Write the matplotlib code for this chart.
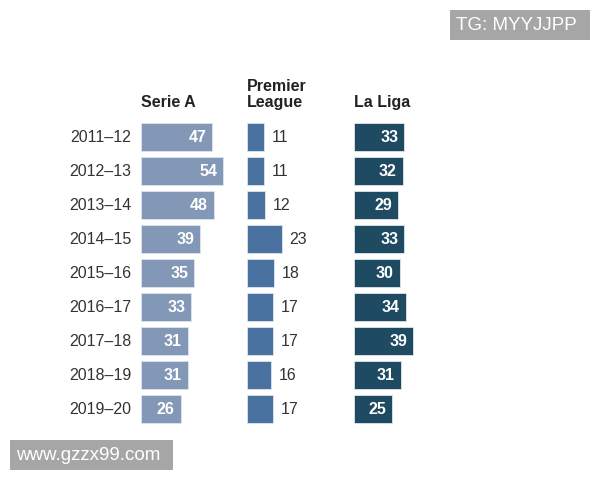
import matplotlib
matplotlib.use('Agg')
from matplotlib import pyplot as plt
from matplotlib.patches import Rectangle

plt.rcParams['font.family'] = ['Liberation Sans', 'DejaVu Sans']

seasons = ['2011–12', '2012–13', '2013–14', '2014–15', '2015–16',
           '2016–17', '2017–18', '2018–19', '2019–20']
serie_a = [47, 54, 48, 39, 35, 33, 31, 31, 26]
premier_league = [11, 11, 12, 23, 18, 17, 17, 16, 17]
la_liga = [33, 32, 29, 33, 30, 34, 39, 31, 25]

leagues = ['Serie A', 'Premier\nLeague', 'La Liga']
colors = ['#8398b6', '#4a72a0', '#1e4b62']
inside_labels = [True, False, True]

W, H = 600, 480
fig = plt.figure(figsize=(6, 4.8), dpi=100)

# pixel layout: left edge of each column, rows from y=120 to y=426 (from top)
col_left = [141, 247, 354]
col_width = 100
xmax = col_width / 1.52
top, bottom = 120, 426

for k, values in enumerate([serie_a, premier_league, la_liga]):
    ax = fig.add_axes([col_left[k] / W, (H - bottom) / H,
                       col_width / W, (bottom - top) / H])
    ax.set_xlim(0, xmax)
    ax.set_ylim(len(seasons) - 0.5, -0.5)
    ax.axis('off')
    ypos = list(range(len(seasons)))
    ax.barh(ypos, values, height=0.82, color=colors[k],
            edgecolor='#dfe5ec', linewidth=0.6)
    for y, v in zip(ypos, values):
        if inside_labels[k]:
            ax.text(v - 4, y, str(v), ha='right', va='center', color='white',
                    fontsize=11.5, fontweight='bold')
        else:
            ax.text(v + 5, y, str(v), ha='left', va='center', color='#333333',
                    fontsize=11.5)
    ax.text(0, -0.88, leagues[k], ha='left', va='baseline', color='#222222',
            fontsize=11.5, fontweight='bold', linespacing=1.1)
    if k == 0:
        for y, s in zip(ypos, seasons):
            ax.text(-6.5, y, s, ha='right', va='center', color='#333333',
                    fontsize=11.5)

# watermark boxes
fig.add_artist(Rectangle((450 / W, 1 - 40 / H), 140 / W, 30 / H,
                         transform=fig.transFigure, fc='#a6a6a6', ec='none'))
fig.text(456 / W, 1 - 25 / H, 'TG: MYYJJPP', ha='left', va='center',
         color='white', fontsize=13.5)
fig.add_artist(Rectangle((10 / W, 1 - 470 / H), 163 / W, 30 / H,
                         transform=fig.transFigure, fc='#a6a6a6', ec='none'))
fig.text(16 / W, 1 - 455 / H, 'www.gzzx99.com', ha='left', va='center',
         color='white', fontsize=13.5)

fig.savefig('out.png', dpi=100, facecolor='white')
